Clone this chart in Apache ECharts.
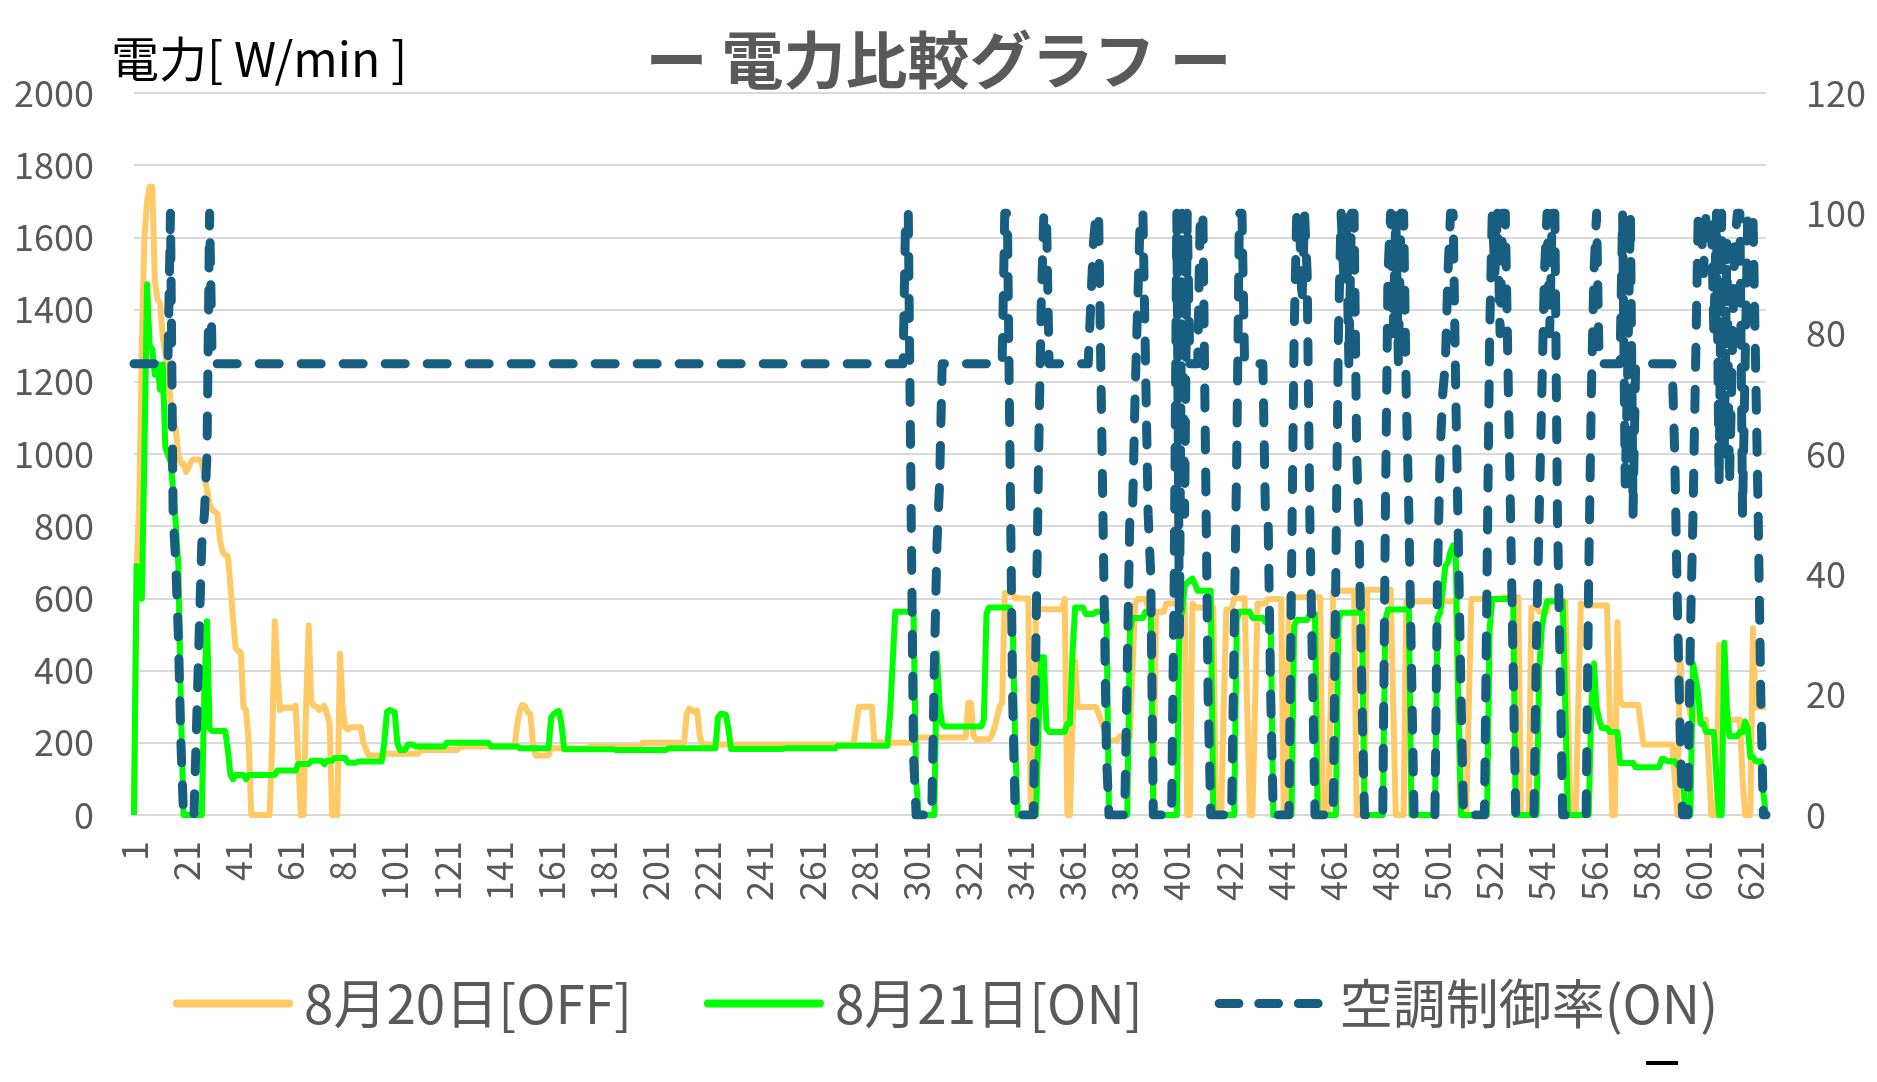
<!DOCTYPE html>
<html>
<head>
<meta charset="utf-8">
<title>電力比較グラフ</title>
<script src="https://cdn.jsdelivr.net/npm/echarts@6/dist/echarts.min.js"></script>
<style>
  html, body { margin: 0; padding: 0; background: #fff; }
  #container { width: 1877px; height: 1082px; }
</style>
</head>
<body>
<div id="container"></div>
<script>
// values, left to right, as [value, how many minutes]
var offRuns = [
    [0,1],[690,1],[850,1],[1300,1],[1600,1],[1700,1],[1740,2],[1480,1],[1428,1],[1417,1],
    [1324,1],[1280,1],[1230,1],[1150,1],[1100,1],[1067,1],[997,1],[974,2],[950,1],[965,1],
    [980,1],[985,3],[975,1],[939,1],[900,1],[860,1],[845,1],[840,1],[834,1],[760,1],
    [729,1],[720,1],[717,1],[636,1],[540,1],[461,1],[455,1],[449,1],[297,1],[291,1],
    [200,1],[0,8],
    [200,1],[537,1],[400,1],[291,1],[297,5],[303,1],[150,1],[0,2],[300,1],[525,1],
    [315,1],[303,1],[300,1],[291,1],[295,1],[303,1],[280,1],[255,1],[0,3],[447,1],
    [300,1],[243,1],[237,1],[243,5],[200,1],[183,1],[165,7],[171,1],[170,12],[180,15],
    [190,22],[250,1],[290,1],[305,1],[300,1],[285,1],[280,1],[200,1],[165,6],[185,15],
    [190,20],[200,17],[280,1],[295,1],[290,1],[285,1],[290,1],[220,1],[195,58],[195,1],
    [250,1],[300,6],[200,1],[200,15],[215,20],[310,2],[220,1],[210,6],[220,1],[240,1],
    [270,1],[300,1],[310,1],[615,4],[600,6],[0,2],[575,1],[570,10],[598,1],[0,2],
    [250,1],[425,1],[299,8],[280,1],[260,1],[240,1],[220,1],[207,4],[218,5],[400,1],
    [586,1],[598,4],[575,2],[0,1],[563,4],[586,8],[0,2],[586,1],[575,8],[0,3],
    [300,1],[569,3],[600,5],[300,1],[0,2],[300,1],[586,4],[598,6],[0,2],[603,13],
    [0,3],[300,1],[621,9],[0,4],[624,10],[300,1],[0,4],[592,20],[300,1],[0,3],
    [300,1],[598,12],[603,7],[0,4],[575,3],[563,4],[592,7],[300,1],[0,3],[300,1],
    [586,1],[580,10],[300,1],[0,2],[534,1],[322,1],[305,7],[250,1],[195,12],[100,1],
    [0,1],[437,1],[322,3],[276,3],[264,4],[150,1],[0,3],[471,1],[264,8],[100,1],
    [0,3],[517,1],[299,5]
];

var onRuns = [
    [0,1],[690,1],[680,1],[600,1],[1000,1],[1470,1],[1300,1],[1290,1],[1220,1],[1250,1],
    [1178,1],[1248,1],[1020,1],[997,1],[980,1],[900,1],[810,1],[694,1],[300,1],[0,8],
    [350,1],[537,1],[239,1],[233,6],[180,1],[111,1],[99,1],[111,4],
    [99,1],[111,11],[123,8],[141,5],[150,5],[141,1],[150,3],[158,5],[145,4],[148,10],
    [200,1],[285,1],[291,1],[288,1],[285,1],[200,1],[180,3],[195,3],[190,12],[200,17],
    [190,11],[185,12],[270,1],[280,1],[285,1],[288,1],[250,1],[182,20],[180,20],[185,19],
    [270,1],[280,2],[278,1],[240,1],[183,21],[185,20],[192,20],[280,1],[420,1],[563,8],
    [100,1],[0,7],[448,1],[300,1],[253,1],[245,15],[264,1],[557,1],[575,9],[546,1],
    [200,1],[0,8],[250,1],[437,2],[241,1],[230,7],[253,2],[450,1],[575,4],[557,4],
    [563,5],[0,8],[506,1],[546,5],[563,3],[0,10],[540,1],[560,1],[632,1],[644,1],
    [650,1],[655,1],[640,1],[621,6],[0,9],[540,1],[563,5],[546,5],[534,1],[552,2],
    [0,8],[523,1],[540,5],[557,3],[0,8],[540,1],[560,9],[0,8],[540,1],[569,9],
    [0,10],[546,1],[560,1],[620,1],[690,1],[700,1],[730,1],[747,1],[720,1],[300,1],
    [0,11],[517,1],[598,9],[0,9],[400,1],[517,1],[560,1],[592,7],[300,1],[0,9],
    [300,1],[420,1],[300,1],[264,1],[241,3],[230,4],[144,6],[132,10],[155,2],[149,4],
    [138,3],[0,3],[420,1],[380,1],[333,1],[253,2],[230,4],[100,1],[0,2],[477,1],
    [300,1],[218,4],[230,2],[259,1],[240,1],[161,2],[149,3],[60,1],[0,1]
];

var ctrlRuns = [
    [75,14],[100,1],[50,1],[42,1],[30,1],[12,1],[0,5],[15,1],[30,1],[45,1],
    [50,1],[60,1],[100,1],
    [75,266],[100,2],[55,1],[10,1],[0,7],[25,1],[45,1],[55,1],[75,24],[100,2],
    [60,1],[20,1],[0,8],[30,1],[60,1],[85,1],[100,2],[75,16],[85,1],[95,1],
    [100,2],[70,1],[40,1],[10,1],[0,7],[25,1],[50,2],[70,1],[85,1],[100,2],
    [75,1],[50,1],[40,1],[0,8],[40,1],[100,1],[30,1],[100,1],[50,1],[100,1],
    [75,4],[100,2],[60,1],[20,1],[0,9],[30,1],[60,1],[100,2],[75,8],[50,2],
    [20,1],[0,7],[40,1],[80,1],[100,2],[85,1],[100,1],[90,1],[50,1],[25,1],
    [0,8],[40,1],[80,1],[100,1],[90,1],[100,1],[75,1],[100,2],[60,1],[45,1],
    [20,1],[0,8],[50,1],[90,1],[100,1],[80,1],[100,1],[75,1],[100,2],[70,1],
    [50,1],[25,1],[0,9],[40,1],[60,1],[70,1],[75,1],[90,1],[100,2],[70,1],
    [45,1],[20,1],[0,9],[40,1],[80,1],[100,1],[90,1],[100,1],[80,1],[100,2],
    [75,1],[50,1],[25,1],[0,8],[30,1],[50,1],[70,1],[90,1],[100,1],[80,1],
    [100,2],[50,1],[25,1],[0,10],[40,1],[70,1],[90,1],[100,1],[75,9],[100,1],
    [55,1],[75,1],[100,1],[50,1],[75,15],[60,1],[35,1],[15,1],[0,3],[30,1],
    [50,1],[75,1],[100,2],[90,1],[100,3],[80,1],[100,1],[55,1],[100,1],[60,1],
    [95,1],[55,1],[75,1],[95,1],[100,2],[50,1],[75,1],[100,3],[75,1],[50,1],
    [20,1],[0,2]
];

var powerTicks = { min: 0, max: 2000, step: 200 };
var rateTicks = { min: 0, max: 120, step: 20 };
var labelEvery = 20;

function expandRuns(runs) {
    var out = [];
    runs.forEach(function (r) {
        for (var k = 0; k < r[1]; k++) out.push(r[0]);
    });
    return out;
}

var offData = expandRuns(offRuns);
var onData = expandRuns(onRuns);
var ctrlData = expandRuns(ctrlRuns);

var minutes = [];
for (var m = 1; m <= offData.length; m++) minutes.push(String(m));

var font = '"Noto Sans CJK JP", "Noto Sans", sans-serif';
var grey = '#595959';
var orange = '#FFCA66', green = '#00FF00', blue = '#175E80';

// three rounded dashes for the dashed legend key
var dashIcon = 'path://M5 0h22a5 5 0 0 1 0 10h-22a5 5 0 0 1 0-10z' +
    'M49 0h22a5 5 0 0 1 0 10h-22a5 5 0 0 1 0-10z' +
    'M93 0h22a5 5 0 0 1 0 10h-22a5 5 0 0 1 0-10z';
var lineIcon = 'path://M4 0h112a4 4 0 0 1 0 8h-112a4 4 0 0 1 0-8z';

var chart = echarts.init(document.getElementById('container'));
chart.setOption({
    animation: false,
    backgroundColor: '#fff',
    textStyle: { fontFamily: font },
    title: [{
        text: 'ー 電力比較グラフ ー',
        left: 'center',
        top: 24,
        textStyle: { fontSize: 62, fontWeight: 'bold', color: grey, fontFamily: font }
    }, {
        text: '電力[ W/min ]',
        left: 106,
        top: 30,
        textStyle: { fontSize: 48, fontWeight: 'normal', color: '#000', fontFamily: font }
    }],
    legend: {
        left: 168,
        top: 972,
        itemWidth: 120,
        itemHeight: 9,
        itemGap: 72,
        textStyle: { fontSize: 53, color: grey, fontFamily: font, padding: [0, 0, 0, 6] },
        data: [
            { name: '8月20日[OFF]', icon: lineIcon },
            { name: '8月21日[ON]', icon: lineIcon },
            { name: '空調制御率(ON)', icon: dashIcon }
        ]
    },
    grid: { left: 134, right: 111, top: 93, bottom: 267 },
    xAxis: {
        type: 'category',
        data: minutes,
        boundaryGap: false,
        axisLine: { show: true, lineStyle: { color: '#d9d9d9', width: 2 } },
        axisTick: { show: false },
        axisLabel: {
            interval: labelEvery - 1,
            rotate: 90,
            margin: 26,
            fontSize: 36,
            color: grey,
            fontFamily: font
        }
    },
    yAxis: [{
        type: 'value',
        min: powerTicks.min,
        max: powerTicks.max,
        interval: powerTicks.step,
        axisLine: { show: false },
        axisTick: { show: false },
        axisLabel: {
            fontSize: 36, color: grey, margin: 40, fontFamily: font,
            formatter: function (v) { return String(v); }
        },
        splitLine: { lineStyle: { color: '#d9d9d9', width: 2 } }
    }, {
        type: 'value',
        position: 'right',
        min: rateTicks.min,
        max: rateTicks.max,
        interval: rateTicks.step,
        axisLine: { show: false },
        axisTick: { show: false },
        axisLabel: {
            fontSize: 36, color: grey, margin: 40, fontFamily: font,
            formatter: function (v) { return String(v); }
        },
        splitLine: { show: false }
    }],
    series: [{
        name: '8月20日[OFF]',
        type: 'line',
        data: offData,
        symbol: 'none',
        itemStyle: { color: orange },
        lineStyle: { color: orange, width: 6, join: 'round' }
    }, {
        name: '8月21日[ON]',
        type: 'line',
        data: onData,
        symbol: 'none',
        itemStyle: { color: green },
        lineStyle: { color: green, width: 6, join: 'round' }
    }, {
        name: '空調制御率(ON)',
        type: 'line',
        yAxisIndex: 1,
        data: ctrlData,
        symbol: 'none',
        itemStyle: { color: blue },
        lineStyle: { color: blue, width: 9, type: [20, 22], cap: 'round', join: 'round' }
    }],
    graphic: [{
        type: 'rect',
        shape: { x: 1646, y: 1061, width: 32, height: 4 },
        style: { fill: '#000' }
    }]
});
</script>
</body>
</html>
